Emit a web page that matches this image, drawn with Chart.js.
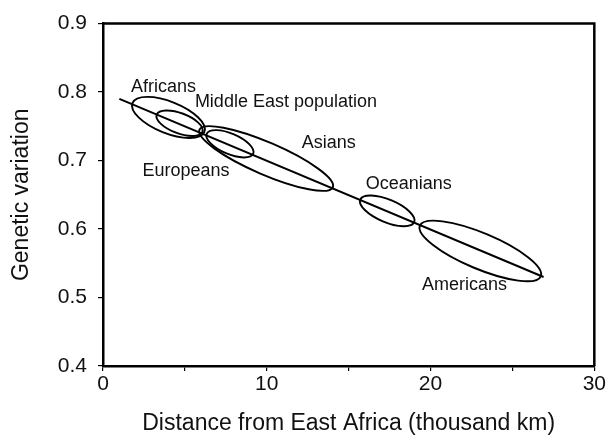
<!DOCTYPE html>
<html>
<head>
<meta charset="utf-8">
<script src="https://cdn.jsdelivr.net/npm/chart.js@4/dist/chart.umd.min.js"></script>
<style>
html,body{margin:0;padding:0;background:#fff;}
#wrap{width:607px;height:438px;}
</style>
</head>
<body>
<div id="wrap"><canvas id="c" width="607" height="438"></canvas></div>
<script>
// Regression line (distance in thousand km, genetic variation)
const lineX = [1.0, 26.9];
const lineY = [0.79, 0.53];

// Ellipses: major-axis endpoints (data) and minor semi-axis (in variation units)
const groupNames = ["Africans", "Middle East", "Asians", "Europeans", "Oceanians", "Americans"];
const ellX1 = [1.80, 3.28, 5.89, 6.33, 15.71, 19.35];
const ellY1 = [0.784, 0.767, 0.745, 0.739, 0.643, 0.605];
const ellX2 = [6.19, 6.07, 14.03, 9.17, 19.00, 26.73];
const ellY2 = [0.742, 0.742, 0.661, 0.710, 0.610, 0.531];
const ellMinor = [0.0230, 0.0148, 0.0235, 0.0150, 0.0165, 0.0262];

// Text labels anchored in data space
const labelText = ["Africans", "Middle East population", "Asians", "Europeans", "Oceanians", "Americans"];
const labelX = [3.70, 11.17, 13.78, 5.07, 18.67, 22.07];
const labelY = [0.807, 0.786, 0.726, 0.684, 0.665, 0.518];

const FONT = "'Liberation Sans', Arial, sans-serif";

const ellipsePlugin = {
  id: 'ellipses',
  afterDatasetsDraw(chart) {
    const ctx = chart.ctx, xs = chart.scales.x, ys = chart.scales.y;
    ctx.save();
    ctx.strokeStyle = '#000';
    ctx.lineWidth = 1.9;
    for (let i = 0; i < ellX1.length; i++) {
      const p1x = xs.getPixelForValue(ellX1[i]), p1y = ys.getPixelForValue(ellY1[i]);
      const p2x = xs.getPixelForValue(ellX2[i]), p2y = ys.getPixelForValue(ellY2[i]);
      const cx = (p1x + p2x) / 2, cy = (p1y + p2y) / 2;
      const a = Math.hypot(p2x - p1x, p2y - p1y) / 2;
      const b = Math.abs(ys.getPixelForValue(0) - ys.getPixelForValue(ellMinor[i]));
      const ang = Math.atan2(p2y - p1y, p2x - p1x);
      ctx.beginPath();
      ctx.ellipse(cx, cy, a, b, ang, 0, Math.PI * 2);
      ctx.stroke();
    }
    ctx.fillStyle = '#111';
    ctx.font = "18px " + FONT;
    ctx.textAlign = 'center';
    ctx.textBaseline = 'middle';
    for (let i = 0; i < labelText.length; i++) {
      ctx.fillText(labelText[i], xs.getPixelForValue(labelX[i]), ys.getPixelForValue(labelY[i]));
    }
    ctx.restore();
  },
  afterDraw(chart) {
    const ctx = chart.ctx, ca = chart.chartArea;
    ctx.save();
    ctx.strokeStyle = '#000';
    ctx.lineWidth = 2.5;
    ctx.beginPath();
    ctx.moveTo(ca.left, ca.top);
    ctx.lineTo(ca.right, ca.top);
    ctx.lineTo(ca.right, ca.bottom);
    ctx.stroke();
    ctx.restore();
  }
};

new Chart(document.getElementById('c'), {
  type: 'scatter',
  data: {
    datasets: [{
      data: lineX.map((x, i) => ({x: x, y: lineY[i]})),
      showLine: true,
      borderColor: '#000',
      borderWidth: 2,
      pointRadius: 0,
      fill: false
    }]
  },
  options: {
    responsive: false,
    animation: false,
    layout: {padding: {top: 22, right: 10, left: 0, bottom: 0}},
    plugins: {legend: {display: false}, tooltip: {enabled: false}},
    scales: {
      x: {
        type: 'linear', min: 0, max: 30,
        afterFit(s) { s.height = 72; },
        border: {display: true, color: '#000', width: 2.5},
        grid: {drawOnChartArea: false, drawTicks: true, tickLength: 5, color: '#000', lineWidth: 1.2},
        ticks: {
          stepSize: 5, color: '#111', padding: 1,
          font: {family: FONT, size: 21},
          maxRotation: 0, autoSkip: false,
          callback: v => (v % 10 === 0 ? String(v) : '')
        },
        title: {display: true, text: 'Distance from East Africa (thousand km)', color: '#111',
          font: {family: FONT, size: 23}, padding: {top: 0, bottom: 1}}
      },
      y: {
        type: 'linear', min: 0.4, max: 0.9,
        afterFit(s) { s.width = 103; },
        border: {display: true, color: '#000', width: 2.5},
        grid: {drawOnChartArea: false, drawTicks: true, tickLength: 5, color: '#000', lineWidth: 1.2},
        ticks: {
          stepSize: 0.1, color: '#111', padding: 11,
          font: {family: FONT, size: 21},
          callback: v => v.toFixed(1)
        },
        title: {display: true, text: 'Genetic variation', color: '#111',
          font: {family: FONT, size: 23}, padding: {top: 8, bottom: 0}}
      }
    }
  },
  plugins: [ellipsePlugin]
});
</script>
</body>
</html>
